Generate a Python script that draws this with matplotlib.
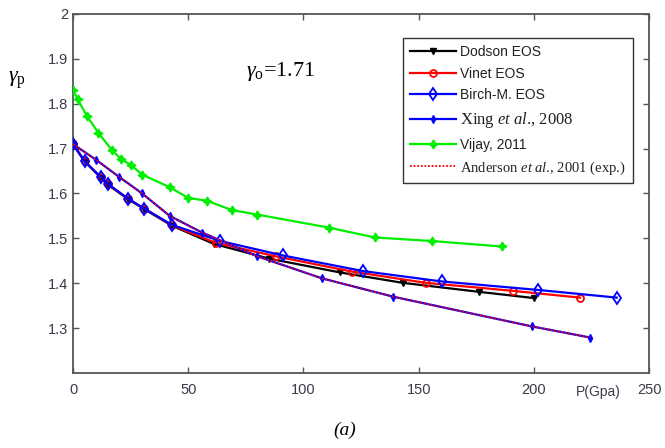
import matplotlib
matplotlib.use("Agg")
import matplotlib.pyplot as plt

plt.rcParams['mathtext.fontset'] = 'custom'
plt.rcParams['mathtext.rm'] = 'Liberation Serif'
plt.rcParams['mathtext.it'] = 'Liberation Serif:italic'

# ---- data ----
dodson_p = [0, 5, 12, 15, 24, 31, 43, 61, 85, 116, 143, 176, 200]
dodson_g = [1.71, 1.672, 1.635, 1.62, 1.587, 1.565, 1.528, 1.488, 1.455, 1.424, 1.401, 1.381, 1.367]

vinet_p = [0, 5, 12, 15, 24, 31, 43, 62, 88, 121, 153, 191, 220]
vinet_g = [1.71, 1.672, 1.636, 1.621, 1.588, 1.566, 1.529, 1.49, 1.46, 1.426, 1.401, 1.383, 1.368]

birch_p = [0, 5, 12, 15, 24, 31, 43, 64, 91, 126, 160, 202, 236]
birch_g = [1.71, 1.672, 1.637, 1.622, 1.588, 1.566, 1.53, 1.494, 1.462, 1.427, 1.404, 1.385, 1.368]

xing_p = [0, 10, 20, 30, 42, 56, 80, 108, 139, 199, 224.5]
xing_g = [1.71, 1.675, 1.637, 1.600, 1.55, 1.513, 1.46, 1.411, 1.370, 1.304, 1.279]

vijay_p = [0, 2, 6, 11, 17, 21, 25, 30, 42, 50, 58, 69, 80, 111, 131, 156, 186]
vijay_g = [1.83, 1.81, 1.773, 1.735, 1.696, 1.676, 1.664, 1.642, 1.614, 1.59, 1.584, 1.563, 1.553, 1.524, 1.502, 1.494, 1.482]

anderson_p = [0, 10, 20, 30, 42, 56, 80, 108, 139, 199, 224.5]
anderson_g = [1.71, 1.675, 1.637, 1.600, 1.55, 1.513, 1.46, 1.411, 1.370, 1.304, 1.279]

xticks = [0, 50, 100, 150, 200, 250]
yticks = [1.3, 1.4, 1.5, 1.6, 1.7, 1.8, 1.9, 2.0]
ytick_labels = ['1.3', '1.4', '1.5', '1.6', '1.7', '1.8', '1.9', '2']

fig = plt.figure(figsize=(6.65, 4.48), dpi=100)
ax = fig.add_axes([0.1098, 0.1674, 0.8662, 0.8014])

ax.plot(dodson_p, dodson_g, color='black', lw=1.6, marker='v', ms=4.5, mfc='black', label='Dodson EOS', zorder=3)
ax.plot(vinet_p, vinet_g, color='red', lw=1.6, marker='o', ms=5, mfc='none', mew=1.3, label='Vinet EOS', zorder=3)
ax.plot(birch_p, birch_g, color='blue', lw=1.6, marker='d', ms=6.5, mfc='none', mew=1.3, label='Birch-M. EOS', zorder=4)
ax.plot(xing_p, xing_g, color='blue', lw=1.6, marker='d', ms=4, mfc='blue', label=r'Xing $\mathit{et\ al}$., 2008', zorder=4)
ax.plot(vijay_p, vijay_g, color='#00ee00', lw=1.6, marker=(4, 1, 0), ms=6.5, mfc='#00ee00', label='Vijay, 2011', zorder=3)
ax.plot(anderson_p, anderson_g, color='red', lw=1.3, ls=(0, (1, 1)), label=r'Anderson $\mathit{et\ al}$., 2001 (exp.)', zorder=5)

ax.set_xlim(0, 250)
ax.set_ylim(1.2, 2.0)
ax.set_xticks(xticks)
ax.set_yticks(yticks)
ax.set_yticklabels(ytick_labels)
ax.tick_params(direction='in', top=True, right=True, length=4, width=1, colors='#555555',
               labelcolor='#3a3a4a', labelsize=10.5)
for lab in ax.get_xticklabels() + ax.get_yticklabels():
    lab.set_family('Liberation Sans')
ax.tick_params(axis='x', pad=7)
for s in ax.spines.values():
    s.set_color('#555555')
    s.set_linewidth(1.3)

leg = ax.legend(loc='upper right', bbox_to_anchor=(0.972, 0.933), borderaxespad=0,
                fancybox=False, edgecolor='#333333', framealpha=1, handlelength=3.3,
                labelspacing=0.55, fontsize=10, handletextpad=0.3, borderpad=0.5)
leg.get_frame().set_linewidth(1.0)
texts = leg.get_texts()
for i, t in enumerate(texts):
    if i in (3,):
        t.set_family('Liberation Serif')
        t.set_fontsize(12)
    elif i == 5:
        t.set_family('Liberation Serif')
        t.set_fontsize(10.5)
    else:
        t.set_family('Liberation Sans')
    t.set_color('#222222')

ax.text(75, 1.871, r'$\gamma_{\rm o}$=1.71', fontsize=16, family='Liberation Serif', va='center', ha='left')
fig.text(0.012, 0.82, r'$\gamma_{\rm p}$', fontsize=16, family='Liberation Serif', va='center', ha='left')
fig.text(0.900, 0.125, 'P(Gpa)', fontsize=10, family='Liberation Sans', color='#3a3a4a', ha='center', va='center')
fig.text(0.519, 0.040, '(a)', fontsize=14, family='Liberation Serif', style='italic', ha='center', va='center')

fig.savefig('out.png', dpi=100)
